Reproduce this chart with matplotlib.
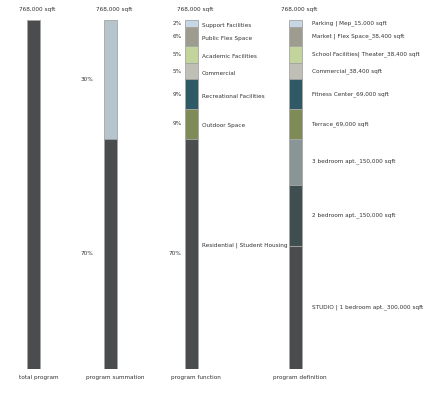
import matplotlib.pyplot as plt

# ---- data ----
column_names = ["total program", "program summation", "program function", "program definition"]
total_sqft = "768,000 sqft"

total_height = [106]

summation_labels = ["30%", "70%"]
summation_height = [36, 70]

function_names = ["Support Facilities", "Public Flex Space", "Academic Facilities", "Commercial",
                  "Recreational Facilities", "Outdoor Space", "Residential | Student Housing"]
function_pct = [2, 6, 5, 5, 9, 9, 70]

definition_names = ["Parking | Mep_15,000 sqft", "Market | Flex Space_38,400 sqft",
                    "School Facilities| Theater_38,400 sqft", "Commercial_38,400 sqft",
                    "Fitness Center_69,000 sqft", "Terrace_69,000 sqft",
                    "3 bedroom apt._150,000 sqft", "2 bedroom apt._150,000 sqft",
                    "STUDIO | 1 bedroom apt._300,000 sqft"]
definition_height = [2, 6, 5, 5, 9, 9, 14, 18.5, 37.5]

# ---- style ----
DARK = "#4b4c4d"
function_colors = ["#c6d6e3", "#9d9c8f", "#c3d39c", "#bfbfb6", "#2f5965", "#7f8b57", DARK]
definition_colors = function_colors[:6] + ["#8a9595", "#3f4f50", DARK]
summation_colors = ["#b6c4ce", DARK]
EDGE = "#a5a5a5"
TXT = "#333333"
FONT = ["Liberation Sans Narrow", "DejaVu Sans"]
FS = 4.6

W, H = 426, 395
fig = plt.figure(figsize=(W / 100, H / 100), dpi=100)
top_px, bot_px = 20, 369
ax = fig.add_axes([0, (H - bot_px) / H, 1, (bot_px - top_px) / H])
ax.set_xlim(0, W)
ax.set_ylim(sum(total_height), 0)
ax.axis("off")

xs = [33.5, 110.5, 191, 295]
bw = 13


def stack(x, heights, colors):
    start = 0
    mids = []
    for h, c in zip(heights, colors):
        ax.bar(x, h, bottom=start, width=bw, color=c, edgecolor=EDGE, linewidth=0.6)
        mids.append(start + h / 2)
        start += h
    return mids


stack(xs[0], total_height, [DARK])
mid2 = stack(xs[1], summation_height, summation_colors)
mid3 = stack(xs[2], function_pct, function_colors)
mid4 = stack(xs[3], definition_height, definition_colors)

kw = dict(fontsize=FS, color=TXT, family=FONT, stretch="condensed", va="center")

for lab, m in zip(summation_labels, mid2):
    ax.text(xs[1] - bw / 2 - 11, m, lab, ha="right", **kw)

for p, m in zip(function_pct, mid3):
    ax.text(xs[2] - bw / 2 - 3, m, f"{p}%", ha="right", **kw)
for i, (name, m) in enumerate(zip(function_names, mid3)):
    off = -2.5 if i == len(function_names) - 1 else 0.6
    ax.text(xs[2] + bw / 2 + 4, m + off, name, ha="left", **kw)

for name, m in zip(definition_names, mid4):
    ax.text(xs[3] + bw / 2 + 11, m, name, ha="left", **kw)

# header and footer labels
for x, name in zip(xs, column_names):
    ax.text(x + 4, -3.1, total_sqft, ha="center", **kw)
    ax.text(x + 5, 108.5, name, ha="center", clip_on=False, **kw)

fig.savefig("out.png", dpi=100, facecolor="white")
